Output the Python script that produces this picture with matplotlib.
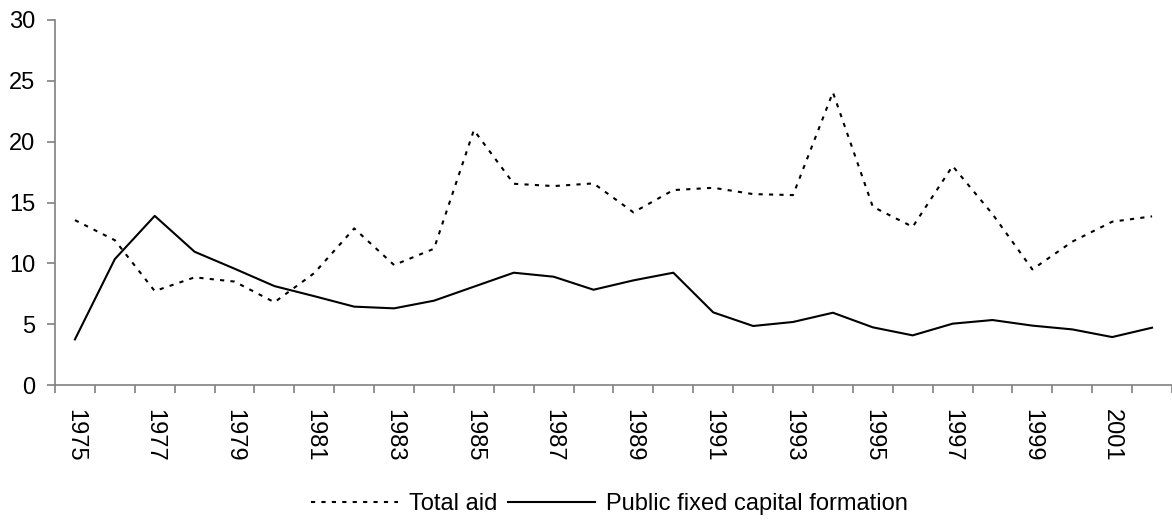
import matplotlib
matplotlib.use("Agg")
import matplotlib.pyplot as plt
import numpy as np

years = list(range(1975, 2003))
total_aid = [13.55, 11.9, 7.72, 8.85, 8.5, 6.8, 9.2, 12.87, 9.86, 11.2,
             20.95, 16.54, 16.35, 16.57, 14.19, 16.02, 16.21, 15.69, 15.61, 24.05,
             14.65, 13.0, 18.0, 14.05, 9.5, 11.78, 13.42, 13.86]
public_fcf = [3.75, 10.35, 13.9, 10.95, 9.56, 8.13, 7.3, 6.44, 6.3, 6.93,
              8.08, 9.23, 8.9, 7.83, 8.6, 9.23, 5.97, 4.85, 5.18, 5.94,
              4.74, 4.08, 5.04, 5.34, 4.88, 4.57, 3.94, 4.71]
y_ticks = [0, 5, 10, 15, 20, 25, 30]
label_years = [y for y in years if (y - 1975) % 2 == 0]

plt.rcParams['font.family'] = ['Liberation Sans', 'DejaVu Sans']

W, H = 1172, 523
fig = plt.figure(figsize=(W / 100, H / 100), dpi=100)
ax = fig.add_axes([55 / W, (H - 385) / H, 1117 / W, 365 / H])

x = np.arange(len(years))
ax.plot(x, total_aid, color='black', lw=1.5, linestyle=(0, (2, 3)),
        label='Total aid')
ax.plot(x, public_fcf, color='black', lw=1.5, linestyle='-',
        label='Public fixed capital formation')

ax.set_xlim(-0.5, len(years) - 0.5)
ax.set_ylim(0, 30)
ax.set_yticks(y_ticks)
ax.set_yticklabels([str(v) for v in y_ticks])

# category boundaries as major ticks, labels at centers as minor ticks
ax.set_xticks(np.arange(-0.5, len(years), 1.0))
ax.set_xticklabels([])
ax.set_xticks([years.index(y) for y in label_years], minor=True)
ax.set_xticklabels([str(y) for y in label_years], minor=True, rotation=-90,
                   va='top', ha='center')

axis_col = '#808080'
for s in ['top', 'right']:
    ax.spines[s].set_visible(False)
for s in ['left', 'bottom']:
    ax.spines[s].set_color(axis_col)
    ax.spines[s].set_linewidth(1.2)

ax.tick_params(axis='x', which='major', direction='out', length=6, width=1.2,
               color=axis_col)
ax.tick_params(axis='x', which='minor', length=0, pad=17, labelsize=17)
ax.tick_params(axis='y', direction='out', length=6, width=1.2, color=axis_col,
               labelsize=17, pad=8)

fig.legend(loc='center', bbox_to_anchor=(609 / W, 1 - 504 / H), ncol=2,
           frameon=False, fontsize=17, handlelength=3.7, handletextpad=0.45,
           columnspacing=0.45)

fig.savefig('out.png', dpi=100)
